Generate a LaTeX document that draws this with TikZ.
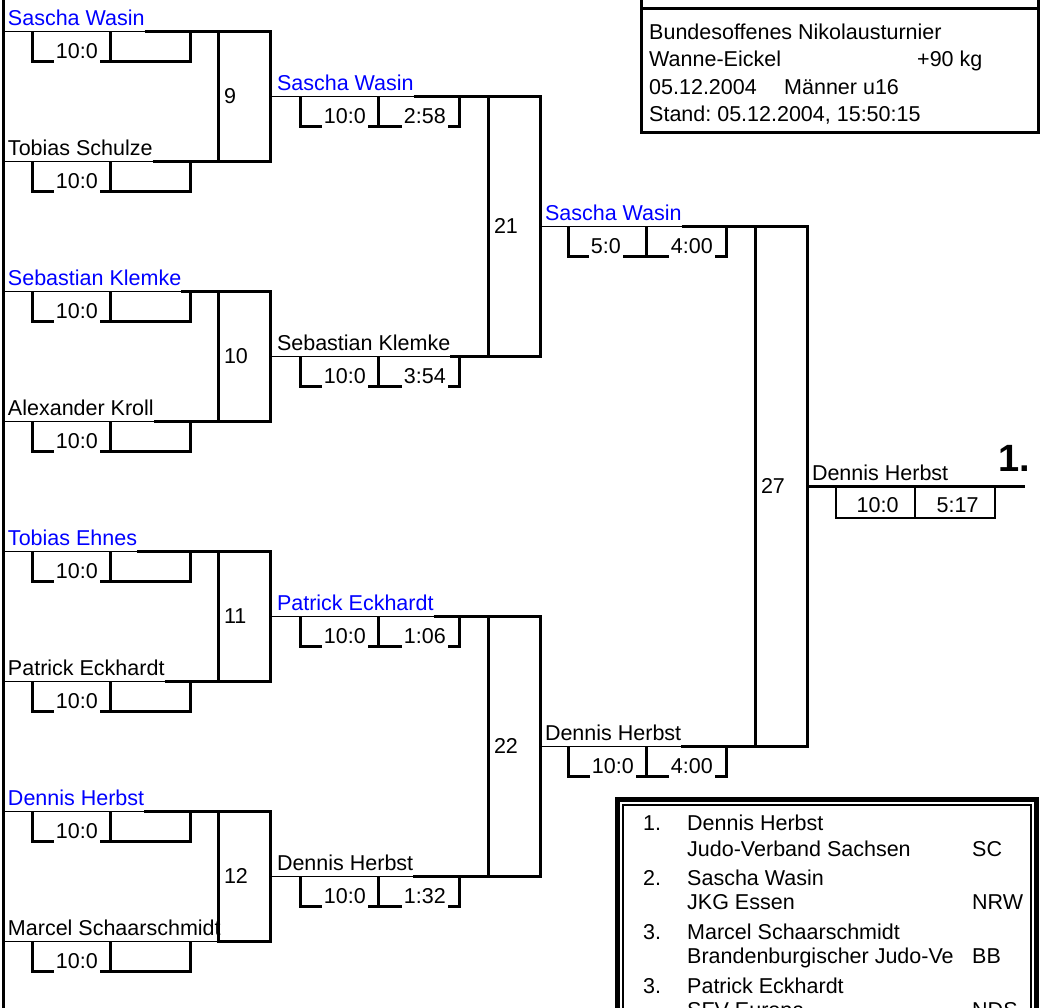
\documentclass[tikz,border=0pt]{standalone}
\usepackage{fontspec}
\setmainfont{Liberation Sans}
\usepackage{xcolor}
\usetikzlibrary{positioning}

\newcommand{\brfont}{\fontsize{21.5}{25}\selectfont}
\frenchspacing

\begin{document}
\begin{tikzpicture}[x=1pt, y=-1pt,
  bline/.style={line width=3pt},
  tline/.style={line width=1pt},
  pname/.style={anchor=south west, inner xsep=0pt, inner ysep=5.5pt, outer sep=0pt, text depth=0pt, font=\brfont},
  win/.style={pname, text=blue},
  mbox/.style={draw, line width=3pt, minimum width=52pt, text width=40pt, inner xsep=6pt, outer sep=0pt, align=left, font=\brfont},
  score/.style={anchor=base east, fill=white, inner xsep=2pt, inner ysep=1pt, text depth=4pt, font=\brfont},
  info/.style={anchor=base west, inner sep=0pt, font=\brfont}]
  \useasboundingbox (0,0) rectangle (1044,1007);
  \clip (0,0) rectangle (1044,1007);
  % Left border
  \draw[bline] (3,-5) -- (3,1012);
  % Match boxes
  \node[mbox, minimum height=130pt] (m9)  at (244,96)  {9};
  \node[mbox, minimum height=130pt] (m10) at (244,356) {10};
  \node[mbox, minimum height=130pt] (m11) at (244,616) {11};
  \node[mbox, minimum height=130pt] (m12) at (244,876) {12};
  \node[mbox, minimum height=260pt] (m21) at (514,226) {21};
  \node[mbox, minimum height=260pt] (m22) at (514,746) {22};
  \node[mbox, minimum height=520pt] (m27) at (781,486) {27};
  % First round
  \foreach \k/\y in {1/31,2/161,3/291,4/421,5/551,6/681,7/811,8/941}
    \coordinate (e\k) at (3,\y);
  \node[win]   (n1) at (8,31)  {Sascha Wasin};
  \node[pname] (n2) at (8,161) {Tobias Schulze};
  \node[win]   (n3) at (8,291) {Sebastian Klemke};
  \node[pname] (n4) at (8,421) {Alexander Kroll};
  \node[win]   (n5) at (8,551) {Tobias Ehnes};
  \node[pname] (n6) at (8,681) {Patrick Eckhardt};
  \node[win]   (n7) at (8,811) {Dennis Herbst};
  \node[pname] (n8) at (8,941) {Marcel Schaarschmidt};
  \foreach \k/\m/\a in {1/9/north west,2/9/south west,3/10/north west,4/10/south west,
                        5/11/north west,6/11/south west,7/12/north west,8/12/south west} {
    \draw[tline] (e\k) -- (m\m.\a);
    \draw[bline] (n\k.south east) -- (m\m.\a);
  }
  \foreach \y in {31,161,...,941} {
    \draw[bline] (32,\y) -- (32,\y+30) -- (190,\y+30) -- (190,\y);
    \draw[bline] (110,\y) -- (110,\y+30);
    \node[score] (s\y) at (100,\y+27) {10:0};
  }
  % Second round
  \node[win]   (n9)  at (277,96)  {Sascha Wasin};
  \node[pname] (n10) at (277,356) {Sebastian Klemke};
  \node[win]   (n11) at (277,616) {Patrick Eckhardt};
  \node[pname] (n12) at (277,876) {Dennis Herbst};
  \foreach \m/\t/\a in {9/21/north west,10/21/south west,11/22/north west,12/22/south west} {
    \draw[tline] (m\m.east) -- (m\t.\a);
    \draw[bline] (n\m.south east) -- (m\t.\a);
  }
  \foreach \y/\tm in {96/2:58,356/3:54,616/1:06,876/1:32} {
    \draw[bline] (300,\y) -- (300,\y+30) -- (459,\y+30) -- (459,\y);
    \draw[bline] (378,\y) -- (378,\y+30);
    \node[score] (a\y) at (368,\y+27) {10:0};
    \node[score] (b\y) at (448,\y+27) {\tm};
  }
  % Semifinals
  \node[win]   (n21) at (545,226) {Sascha Wasin};
  \node[pname] (n22) at (545,746) {Dennis Herbst};
  \draw[tline] (m21.east) -- (m27.north west);
  \draw[bline] (n21.south east) -- (m27.north west);
  \draw[tline] (m22.east) -- (m27.south west);
  \draw[bline] (n22.south east) -- (m27.south west);
  \foreach \y in {226,746} {
    \draw[bline] (568,\y) -- (568,\y+30) -- (726,\y+30) -- (726,\y);
    \draw[bline] (646,\y) -- (646,\y+30);
  }
  \node[score] (c1) at (623,253) {5:0};
  \node[score] (c2) at (715,253) {4:00};
  \node[score] (c3) at (636,773) {10:0};
  \node[score] (c4) at (715,773) {4:00};
  % Final
  \coordinate (fin) at (1025,486);
  \node[pname] (n27) at (812,486) {Dennis Herbst};
  \draw[bline] (m27.east) -- (fin);
  \draw[line width=2pt] (836,486) rectangle (995,518) (915,486) -- (915,518);
  \node[anchor=base east, font=\brfont] (d1) at (902,512) {10:0};
  \node[anchor=base east, font=\brfont] (d2) at (982,512) {5:17};
  \node[anchor=base east, inner sep=0pt, font=\bfseries\fontsize{38}{40}\selectfont] (place) at (1030,471) {1.};
  % Header
  \draw[bline] (641,-10) rectangle (1038,132);
  \draw[bline] (641,8) -- (1038,8);
  \node[info] (h1) at (649,39)  {Bundesoffenes Nikolausturnier};
  \node[info] (h2) at (649,66)  {Wanne-Eickel};
  \node[info] (h3) at (917,66)  {+90 kg};
  \node[info] (h4) at (649,94)  {05.12.2004};
  \node[info] (h5) at (784,94)  {Männer u16};
  \node[info] (h6) at (649,121) {Stand: 05.12.2004, 15:50:15};
  % Standings
  \draw[line width=5pt] (617.5,799.5) rectangle (1036.5,1030);
  \draw[line width=1.5pt] (623,805) rectangle (1031,1030);
  \node[info] (k1) at (643,830) {1.};
  \node[info] (w1) at (687,830) {Dennis Herbst};
  \node[info] (v1) at (687,856) {Judo-Verband Sachsen};
  \node[info] (l1) at (972,856) {SC};
  \node[info] (k2) at (643,885) {2.};
  \node[info] (w2) at (687,885) {Sascha Wasin};
  \node[info] (v2) at (687,909) {JKG Essen};
  \node[info] (l2) at (972,909) {NRW};
  \node[info] (k3) at (643,939) {3.};
  \node[info] (w3) at (687,939) {Marcel Schaarschmidt};
  \node[info] (v3) at (687,963) {Brandenburgischer Judo-Ve};
  \node[info] (l3) at (972,963) {BB};
  \node[info] (k4) at (643,993) {3.};
  \node[info] (w4) at (687,993) {Patrick Eckhardt};
  \node[info] (v4) at (687,1017) {SFV Europa};
  \node[info] (l4) at (972,1017) {NDS};
\end{tikzpicture}
\end{document}
